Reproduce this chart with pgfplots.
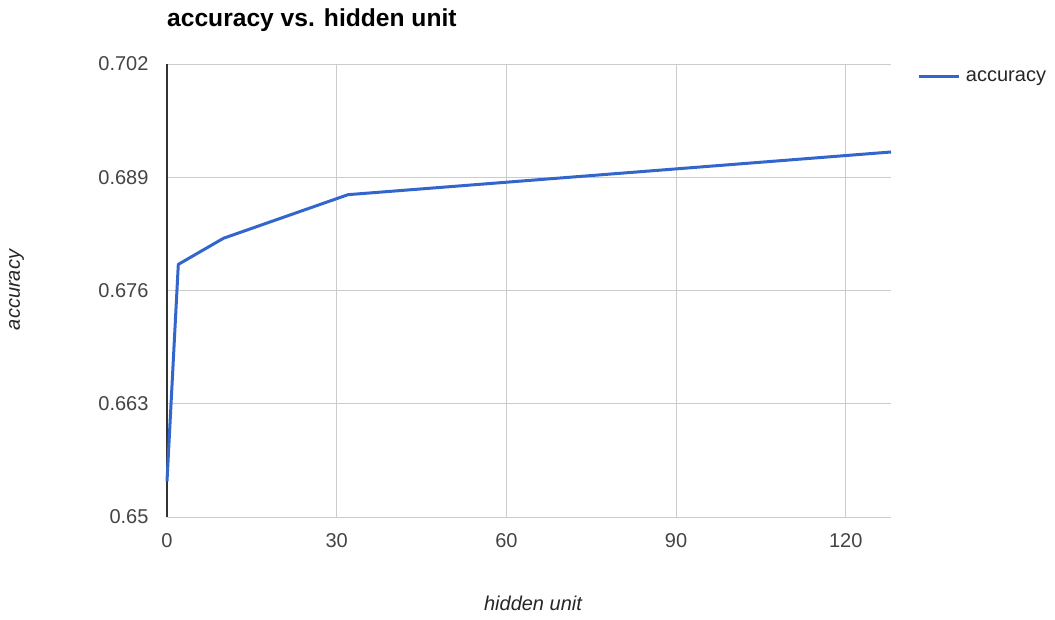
\documentclass[border=0pt]{standalone}
\usepackage{pgfplots}
\pgfplotsset{compat=1.18}
\usepackage{fontspec}
\setmainfont{Liberation Sans}
\definecolor{lineblue}{HTML}{3366CC}
\definecolor{gridgray}{HTML}{CCCCCC}
\definecolor{ticktext}{HTML}{444444}
\begin{document}
\begin{tikzpicture}[x=1pt,y=1pt]
\useasboundingbox (-167,-102) rectangle (888,517);
\begin{axis}[
  scale only axis,
  width=724pt, height=453pt,
  xmin=0, xmax=128, ymin=0.65, ymax=0.702,
  xtick={0,30,60,90,120},
  ytick={0.65,0.663,0.676,0.689,0.702},
  yticklabels={0.65,0.663,0.676,0.689,0.702},
  xticklabels={0,30,60,90,120},
  grid=major,
  major grid style={gridgray, line width=1pt},
  tick style={draw=none},
  axis line style={draw=none},
  ticklabel style={font=\fontsize{20}{24}\selectfont, text=ticktext},
  xticklabel style={yshift=-13pt},
  yticklabel style={xshift=-15pt},
  legend style={draw=none, fill=none, at={(axis description cs:1.037,0.99)}, anchor=north west,
    inner sep=0pt, font=\fontsize{20}{24}\selectfont, text=black!85},
  legend image code/.code={\draw[#1] (0pt,0pt) -- (40pt,0pt);},
  legend cell align=left,
  legend style={nodes={inner xsep=5pt}},
  clip=false,
]
\addplot[gridgray, line width=1pt, forget plot] coordinates {(0,0.65) (128,0.65)};
\addplot[black!80, line width=1.3pt, forget plot] coordinates {(0,0.65) (0,0.702)};
\addplot[lineblue, line width=3pt, line join=round] coordinates {
  (0,0.6541) (2,0.6790) (10,0.6820) (32,0.6870) (128,0.6919)
};
\addlegendentry{accuracy}
\end{axis}
\node[anchor=base west, font=\bfseries\fontsize{24.6}{28}\selectfont, inner sep=0pt] at (0,490) {accuracy vs. hidden unit};
\node[anchor=base, font=\itshape\fontsize{20}{24}\selectfont, text=black!85, inner sep=0pt] at (366,-93) {hidden unit};
\node[anchor=base, rotate=90, font=\itshape\fontsize{20}{24}\selectfont, text=black!85, inner sep=0pt] at (-147,227) {accuracy};
\end{tikzpicture}
\end{document}
